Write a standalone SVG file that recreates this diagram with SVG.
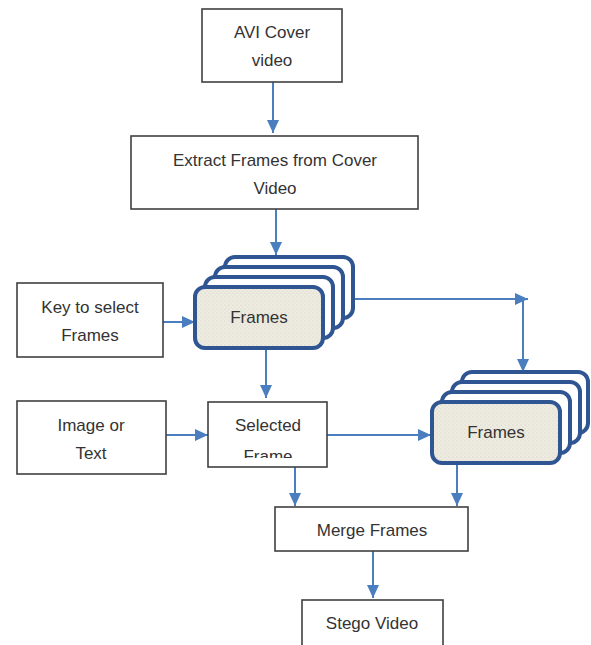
<svg xmlns="http://www.w3.org/2000/svg" width="591" height="645" viewBox="0 0 591 645">
<style>
.box{fill:#fff;stroke:#404040;stroke-width:1.6}
.stk{fill:#fff;stroke:#2f5592;stroke-width:4}
.front{fill:url(#dots);stroke:#2f5592;stroke-width:4}
.t{font-family:"Liberation Sans",Arial,sans-serif;font-size:17px;fill:#333;text-anchor:middle}
.c{stroke:#4a7ebf;stroke-width:2;fill:none;marker-end:url(#ah)}
</style>
<defs>
<marker id="ah" markerUnits="userSpaceOnUse" markerWidth="13" markerHeight="12" refX="13" refY="6" orient="auto" viewBox="0 0 13 12">
<path d="M0,0 L13,6 L0,12 z" fill="#4a7ebf"/>
</marker>
<pattern id="dots" patternUnits="userSpaceOnUse" width="4" height="4">
<rect width="4" height="4" fill="#eeece1"/>
<circle cx="1" cy="1" r="0.5" fill="#c9c6b8"/>
<circle cx="3" cy="3" r="0.5" fill="#d6d3c6"/>
</pattern>
<clipPath id="selclip"><rect x="208" y="402" width="119" height="56"/></clipPath>
</defs>
<g id="connectors">
<line class="c" x1="273" y1="82" x2="273" y2="133"/>
<line class="c" x1="276" y1="209" x2="276" y2="255"/>
<line class="c" x1="163" y1="322" x2="195" y2="322"/>
<line class="c" x1="266" y1="349" x2="266" y2="398"/>
<line class="c" x1="166" y1="435" x2="208" y2="435"/>
<line class="c" x1="327" y1="435" x2="431" y2="435"/>
<line class="c" x1="355" y1="299" x2="528" y2="299"/>
<line class="c" x1="523" y1="299" x2="523" y2="372"/>
<line class="c" x1="295" y1="467" x2="295" y2="506"/>
<line class="c" x1="457" y1="464" x2="457" y2="506"/>
<line class="c" x1="373" y1="551" x2="373" y2="598"/>
</g>
<g id="avi">
<rect class="box" x="202" y="9" width="140" height="73"/>
<text class="t" x="272" y="38">AVI Cover</text>
<text class="t" x="272" y="66">video</text>
</g>
<g id="extract">
<rect class="box" x="131" y="136" width="287" height="73"/>
<text class="t" x="275" y="166">Extract Frames from Cover</text>
<text class="t" x="275" y="194">Video</text>
</g>
<g id="frames1">
<rect class="stk" x="225" y="257" width="128" height="61" rx="10"/>
<rect class="stk" x="215" y="267" width="128" height="61" rx="10"/>
<rect class="stk" x="205" y="277" width="128" height="61" rx="10"/>
<rect class="front" x="195" y="287" width="128" height="61" rx="10"/>
<text class="t" x="259" y="323">Frames</text>
</g>
<g id="key">
<rect class="box" x="17" y="283" width="146" height="74"/>
<text class="t" x="90" y="313">Key to select</text>
<text class="t" x="90" y="341">Frames</text>
</g>
<g id="image">
<rect class="box" x="17" y="401" width="149" height="73"/>
<text class="t" x="91" y="431">Image or</text>
<text class="t" x="91" y="459">Text</text>
</g>
<g id="selected">
<rect class="box" x="208" y="402" width="119" height="65"/>
<text class="t" x="268" y="431">Selected</text>
<text class="t" x="268" y="462" clip-path="url(#selclip)">Frame</text>
</g>
<g id="frames2">
<rect class="stk" x="462" y="372" width="126" height="61" rx="10"/>
<rect class="stk" x="452" y="382" width="128" height="61" rx="10"/>
<rect class="stk" x="442" y="392" width="128" height="61" rx="10"/>
<rect class="front" x="432" y="402" width="128" height="61" rx="10"/>
<text class="t" x="496" y="438">Frames</text>
</g>
<g id="merge">
<rect class="box" x="275" y="507" width="193" height="44"/>
<text class="t" x="372" y="536">Merge Frames</text>
</g>
<g id="stego">
<rect class="box" x="302" y="600" width="141" height="60"/>
<text class="t" x="372" y="629">Stego Video</text>
</g>
</svg>
